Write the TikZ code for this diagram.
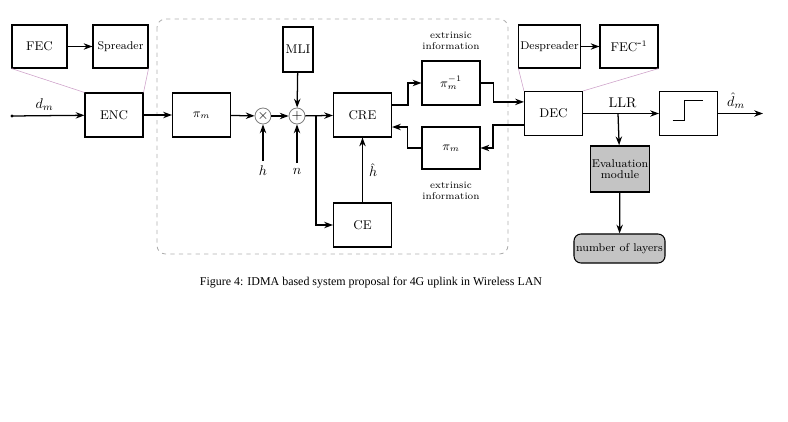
\documentclass[tikz,border=0pt]{standalone}
\usepackage{fontspec}
\newfontfamily\captionfont{Liberation Serif}
\definecolor{boxgray}{RGB}{196,196,196}
\definecolor{dashgray}{RGB}{175,175,175}
\definecolor{zoompink}{RGB}{205,160,200}
\usepackage{tikz}
\usetikzlibrary{arrows.meta,positioning,calc}

\begin{document}
\begin{tikzpicture}[x=0.025cm,y=-0.025cm,
  blk/.style={draw,line width=0.75pt,minimum width=1.45cm,minimum height=1.1cm,inner sep=1pt,font=\small},
  opnode/.style={draw=gray,semithick,circle,minimum size=0.4cm,inner sep=0pt},
  arr/.style={-{Stealth[length=2.2mm,width=1.6mm]},line width=0.9pt},
  zoomline/.style={zoompink,thin},
  ext/.style={font=\scriptsize,align=center,inner sep=0pt}]
  \useasboundingbox (0,0) rectangle (788,421);

  % interleaver / detector part
  \draw[dashgray,dashed,semithick,rounded corners=6pt] (157,19) rectangle (508,254);

  % transmitter
  \node[blk,minimum width=1.375cm,minimum height=1.075cm] (fec) at (39.5,46.5) {FEC};
  \node[blk,minimum width=1.375cm,minimum height=1.075cm,font=\footnotesize] (spreader) at (120.5,46.5) {Spreader};
  \node[blk] (enc) at (114,115) {ENC};
  \node[blk] (pim) at (201.5,115) {$\pi_m$};
  \node[opnode] (mult) at (263,116) {$\times$};
  \node[opnode] (add) at (297,116) {$+$};
  \node[blk,minimum width=0.75cm,minimum height=1.125cm] (mli) at (298,49.5) {MLI};
  \node (hlab) at (263,171) {$h$};
  \node (nlab) at (297,171) {$n$};
  \coordinate (din) at (12,116);
  \coordinate (br1) at (316,116);

  % receiver
  \node[blk] (cre) at (362.5,115) {CRE};
  \node[blk] (ce) at (362.5,225) {CE};
  \node[blk] (piinv) at (451,83) {$\pi_m^{-1}$};
  \node[blk,minimum height=1.05cm] (pil) at (451,148) {$\pi_m$};
  \node[ext] (ext1) at (451,41) {extrinsic\\information};
  \node[ext] (ext2) at (451,191) {extrinsic\\information};
  \node[blk,minimum width=1.425cm,minimum height=1.075cm,font=\footnotesize] (despreader) at (549.5,46.5) {Despreader};
  \node[blk,minimum height=1.075cm] (fecinv) at (629,46.5) {FEC$^{\mbox{-}1}$};
  \node[blk] (dec) at (553.5,113.5) {DEC};
  \node[blk] (hard) at (688.5,113.5) {};
  \node[blk,fill=boxgray,line width=1.1pt,minimum height=1.15cm,font=\footnotesize,align=center] (eval) at (620,169) {Evaluation\\[-2pt]module};
  \node[blk,fill=boxgray,rounded corners=5pt,minimum width=2.275cm,minimum height=0.725cm,font=\footnotesize] (layers) at (619.5,248.5) {number of layers};
  \coordinate (br2) at (618,113.5);
  \coordinate (dout) at (763,113.5);

  % step symbol
  \draw[line width=0.75pt] ($(hard.center)+(-16,7)$) -- ++(12,0) -- ++(0,-20) -- ++(18,0);

  % zoom lines
  \draw[zoomline] (fec.south west) -- (enc.north west);
  \draw[zoomline] (spreader.south east) -- (enc.north east);
  \draw[zoomline] (despreader.south west) -- (dec.north west);
  \draw[zoomline] (fecinv.south east) -- (dec.north east);

  % connections
  \fill (din) circle (1.2pt);
  \draw[arr] (fec) -- (spreader);
  \draw[arr] (despreader) -- (fecinv);
  \draw[arr] (din) -- node[above,pos=0.45] {$d_m$} (enc);
  \draw[arr] (enc) -- (pim);
  \draw[arr] (pim) -- (mult);
  \draw[arr] (mult) -- (add);
  \draw[arr] (add) -- (cre);
  \draw[arr] (mli) -- (add);
  \draw[arr] (hlab) -- (mult);
  \draw[arr] (nlab) -- (add);
  \draw[arr] (br1) |- (ce);
  \draw[arr] (ce) -- node[right,xshift=1pt] {$\hat{h}$} (cre);
  \draw[arr] ([yshift=0.25cm]cre.east) -- ++(0.4cm,0) |- (piinv.west);
  \draw[arr] (piinv.east) -- ++(0.325cm,0) |- ([yshift=0.29cm]dec.west);
  \draw[arr] ([yshift=-0.29cm]dec.west) -- ++(-0.775cm,0) |- (pil.east);
  \draw[arr] (pil.west) -- ++(-0.35cm,0) |- ([yshift=-0.3cm]cre.east);
  \draw[arr] (dec) -- node[above,pos=0.52] {LLR} (hard);
  \draw[arr] (br2) -- (eval);
  \draw[arr] (eval) -- (layers);
  \draw[arr] (hard) -- node[above,pos=0.4] {$\hat{d}_m$} (dout);

  % caption
  \node[font=\captionfont\fontsize{8.5}{10}\selectfont] (cap) at (371,283) {Figure 4: IDMA based system proposal for 4G uplink in Wireless LAN};
\end{tikzpicture}
\end{document}
